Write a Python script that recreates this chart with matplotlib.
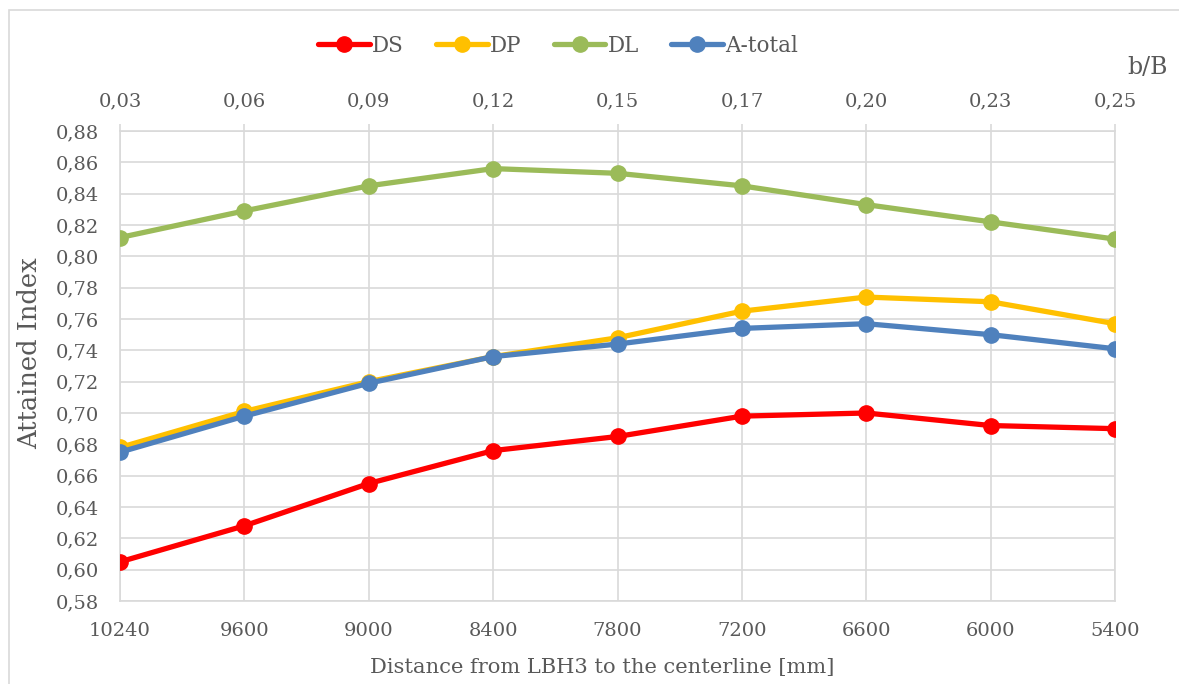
import numpy as np
import matplotlib
matplotlib.use("Agg")
import matplotlib.pyplot as plt
from matplotlib.patches import Rectangle
from matplotlib.lines import Line2D

# Distance from LBH3 to the centerline [mm] and corresponding b/B ratios
distances = ["10240", "9600", "9000", "8400", "7800", "7200", "6600", "6000", "5400"]
b_over_B = ["0,03", "0,06", "0,09", "0,12", "0,15", "0,17", "0,20", "0,23", "0,25"]

# Attained index per damage case
ds = [0.605, 0.628, 0.655, 0.676, 0.685, 0.698, 0.700, 0.692, 0.690]
dp = [0.678, 0.701, 0.720, 0.736, 0.748, 0.765, 0.774, 0.771, 0.757]
dl = [0.812, 0.829, 0.845, 0.856, 0.853, 0.845, 0.833, 0.822, 0.811]
a_total = [0.675, 0.698, 0.719, 0.736, 0.744, 0.754, 0.757, 0.750, 0.741]

series = [("DS", ds, "#ff0000"), ("DP", dp, "#ffc000"),
          ("DL", dl, "#9bbb59"), ("A-total", a_total, "#4f81bd")]

GRID = "#d9d9d9"
TEXT = "#595959"
FONT = "DejaVu Serif"
plt.rcParams["font.family"] = FONT

W, H = 1179, 684
fig = plt.figure(figsize=(W / 100, H / 100), dpi=100)
ax = fig.add_axes([120 / W, 1 - 601 / H, (1115 - 120) / W, (601 - 131) / H])

x = np.arange(len(distances))
for name, vals, col in series:
    ax.plot(x, vals, color=col, lw=3.8, marker="o", ms=11,
            solid_capstyle="round", solid_joinstyle="round", label=name, zorder=3)

ax.set_xlim(0, len(distances) - 1)
ax.set_ylim(0.58, 0.88)
yt = np.round(np.arange(0.58, 0.881, 0.02), 2)
ax.set_yticks(yt)
ax.set_yticklabels([f"{v:.2f}".replace(".", ",") for v in yt])
ax.set_xticks(x)
ax.set_xticklabels(distances)
ax.grid(True, color=GRID, lw=1.2, zorder=0)
ax.set_axisbelow(True)
for s in ax.spines.values():
    s.set_color(GRID)
    s.set_linewidth(1.2)
ax.tick_params(axis="both", length=0, labelsize=14, colors=TEXT)
ax.tick_params(axis="x", pad=15)
ax.tick_params(axis="y", pad=15)

# Secondary category axis on top: b/B
top = ax.secondary_xaxis("top")
top.set_xticks(x)
top.set_xticklabels(b_over_B)
top.tick_params(axis="x", length=5, width=1.2, color=GRID, labelsize=14,
                labelcolor=TEXT, pad=10)
top.spines["top"].set_visible(False)

fig.text(602 / W, 1 - 667 / H, "Distance from LBH3 to the centerline [mm]",
         fontsize=15.1, color=TEXT, ha="center", va="center")
fig.text(30 / W, 1 - 353 / H, "Attained Index", rotation=90, fontsize=18.5,
         color=TEXT, ha="center", va="center")
fig.text(1148 / W, 1 - 67 / H, "b/B", fontsize=17, color=TEXT,
         ha="center", va="center")

handles = [Line2D([], [], color=c, lw=3.8, marker="o", ms=11,
                  solid_capstyle="round") for _, _, c in series]
fig.legend(handles, [n for n, _, _ in series], loc="center",
           bbox_to_anchor=(558 / W, 1 - 46 / H), ncol=4, frameon=False,
           fontsize=15.5, labelcolor=TEXT, handlelength=2.4, handletextpad=0.1,
           columnspacing=1.5)

# Chart area border
fig.patches.append(Rectangle((9 / W, -0.1), 1.2, 1 - 10 / H + 0.1,
                             transform=fig.transFigure, fill=False,
                             edgecolor=GRID, lw=1.2))

fig.savefig("out.png", dpi=100)
